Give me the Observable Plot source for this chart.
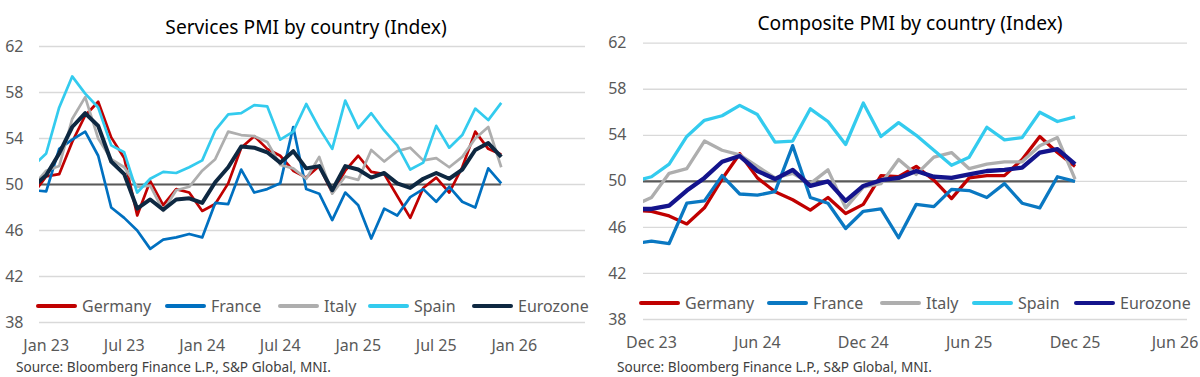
<!DOCTYPE html>
<html><head><meta charset="utf-8">
<script src="https://cdn.jsdelivr.net/npm/d3@7"></script>
<script src="https://cdn.jsdelivr.net/npm/@observablehq/plot@0.6"></script>
<style>
html,body{margin:0;padding:0;background:#fff;}
#wrap{position:relative;width:1200px;height:377px;overflow:hidden;font-family:"Noto Sans",sans-serif;}
.panel{position:absolute;top:0;width:600px;height:377px;}
.plot{position:absolute;top:0;left:0;}
.title{position:absolute;font-size:19.2px;color:#000;white-space:nowrap;transform:translateX(-50%);}
.src{position:absolute;font-size:13.6px;color:#404040;white-space:nowrap;}
.leg{position:absolute;font-size:16px;color:#595959;white-space:nowrap;display:flex;align-items:center;}
.leg .ln{display:inline-block;width:41px;border-radius:2px;margin-right:5px;}
</style>
</head><body>
<div id="wrap">
  <div class="panel" id="left" style="left:0"></div>
  <div class="panel" id="right" style="left:600px"></div>
</div>
<script>
// ---- data ----
const countries = ["Germany", "France", "Italy", "Spain", "Eurozone"];
const yTicks = [38, 42, 46, 50, 54, 58, 62];

// Services PMI, monthly Dec 22 .. Dec 25 (first value is the month before the first tick)
const servicesTickLabels = ["Jan 23", "Jul 23", "Jan 24", "Jul 24", "Jan 25", "Jul 25", "Jan 26"];
const servicesGermany = [49.2,
  50.7, 50.9, 53.7, 56.0, 57.2, 54.1, 52.3, 47.3, 50.3, 48.2, 49.6, 49.3,
  47.7, 48.3, 50.1, 53.2, 54.2, 53.1, 52.5, 51.2, 50.6, 51.6, 49.3, 51.2,
  52.5, 51.1, 50.9, 49.0, 47.1, 49.7, 50.6, 49.3, 51.5, 54.6, 53.1, 52.6];
const servicesFrance = [49.5,
  49.4, 53.1, 53.9, 54.6, 52.5, 48.0, 47.1, 46.0, 44.4, 45.2, 45.4, 45.7,
  45.4, 48.4, 48.3, 51.3, 49.3, 49.6, 50.1, 55.0, 49.6, 49.2, 46.9, 49.3,
  48.2, 45.3, 47.9, 47.3, 48.9, 49.6, 48.5, 49.8, 48.5, 48.0, 51.4, 50.1];
const servicesItaly = [49.9,
  51.2, 51.6, 55.7, 57.6, 54.0, 52.2, 51.5, 49.8, 49.9, 47.7, 49.5, 49.8,
  51.2, 52.2, 54.6, 54.3, 54.2, 53.7, 51.7, 51.4, 50.5, 52.4, 49.2, 50.7,
  50.4, 53.0, 52.0, 52.9, 53.2, 52.1, 52.3, 51.5, 52.4, 54.0, 55.0, 51.5];
const servicesSpain = [51.6,
  52.7, 56.7, 59.4, 57.9, 56.7, 53.4, 52.8, 49.3, 50.5, 51.1, 51.0, 51.5,
  52.1, 54.7, 56.1, 56.2, 56.9, 56.8, 53.9, 54.6, 57.0, 54.9, 53.1, 57.3,
  54.9, 56.2, 54.7, 53.4, 51.3, 51.9, 55.1, 53.2, 54.3, 56.6, 55.6, 57.1];
const servicesEurozone = [49.8,
  50.8, 52.7, 55.0, 56.2, 55.1, 52.0, 50.9, 47.9, 48.7, 47.8, 48.7, 48.8,
  48.4, 50.2, 51.5, 53.3, 53.2, 52.8, 51.9, 52.9, 51.4, 51.6, 49.5, 51.6,
  51.3, 50.6, 51.0, 50.1, 49.7, 50.5, 51.0, 50.5, 51.3, 53.0, 53.6, 52.4];

// Composite PMI, monthly Nov 23 .. Dec 25
const compositeTickLabels = ["Dec 23", "Jun 24", "Dec 24", "Jun 25", "Dec 25", "Jun 26"];
const compositeGermany = [47.5, 47.4,
  47.0, 46.3, 47.7, 50.2, 52.4, 50.3, 49.1, 48.4, 47.5, 48.6, 47.2, 48.0,
  50.5, 50.4, 51.3, 50.1, 48.5, 50.3, 50.5, 50.5, 51.9, 53.9, 52.5, 51.3];
const compositeFrance = [44.6, 44.8,
  44.6, 48.1, 48.3, 50.5, 48.9, 48.8, 49.1, 53.1, 48.6, 48.1, 45.9, 47.4,
  47.6, 45.1, 48.0, 47.8, 49.3, 49.2, 48.6, 49.8, 48.1, 47.7, 50.4, 50.0];
const compositeItaly = [47.9, 48.6,
  50.7, 51.1, 53.5, 52.7, 52.3, 51.3, 50.3, 50.7, 49.8, 51.0, 47.7, 49.5,
  49.8, 51.9, 50.6, 52.1, 52.5, 51.1, 51.5, 51.7, 51.7, 53.1, 53.8, 50.2];
const compositeSpain = [50.0, 50.4,
  51.5, 53.9, 55.3, 55.7, 56.6, 55.8, 53.4, 53.5, 56.3, 55.2, 53.2, 56.8,
  53.9, 55.1, 54.0, 52.7, 51.4, 52.1, 54.7, 53.6, 53.8, 56.0, 55.2, 55.6];
const compositeEurozone = [47.6, 47.6,
  47.9, 49.2, 50.3, 51.7, 52.2, 50.9, 50.2, 51.0, 49.6, 50.0, 48.3, 49.6,
  50.1, 50.3, 50.9, 50.4, 50.3, 50.6, 50.9, 51.0, 51.2, 52.5, 52.8, 51.5];

// ---- chart builder ----
function makePanel(el, cfg) {
  const rows = [];
  cfg.series.forEach((vals, si) => {
    vals.forEach((v, j) => rows.push({series: countries[si], k: j - 1, v}));
  });
  const lastK = cfg.series[0].length - 2;
  const tickPos = cfg.tickLabels.map((_, i) => i * 6);
  const chart = Plot.plot({
    width: 600,
    height: cfg.height,
    marginLeft: cfg.marginLeft,
    marginRight: cfg.marginRight,
    marginTop: cfg.marginTop,
    marginBottom: cfg.marginBottom,
    style: {fontFamily: "Noto Sans", fontSize: "16px", color: "#595959", background: "transparent", overflow: "visible"},
    x: {domain: cfg.xDomain, ticks: tickPos, tickFormat: d => cfg.tickLabels[Math.round(d / 6)], tickSize: 0, tickPadding: 17, label: null},
    y: {domain: [38, 62], ticks: yTicks, tickSize: 0, tickPadding: cfg.yPad, label: null},
    marks: [
      Plot.gridY(yTicks, {stroke: "#D9D9D9", strokeOpacity: 1, strokeWidth: 1.3}),
      Plot.ruleY([50], {x1: cfg.xDomain[0], x2: lastK, stroke: "#595959", strokeWidth: 2.2}),
      ...countries.map((c, i) => Plot.line(rows.filter(d => d.series === c), {
        x: "k", y: "v", stroke: cfg.colors[i], strokeWidth: cfg.widths[i],
        strokeLinejoin: "round", strokeLinecap: "butt", clip: true
      }))
    ]
  });
  chart.classList.add("plot");
  el.appendChild(chart);

  // nudge the last x tick label so that it stays inside the page
  if (cfg.lastTickDx) {
    const labels = chart.querySelectorAll('g[aria-label="x-axis tick label"] text');
    if (labels.length) labels[labels.length - 1].setAttribute("dx", cfg.lastTickDx);
  }

  const t = document.createElement("div");
  t.className = "title";
  t.textContent = cfg.title;
  t.style.left = cfg.titleX + "px";
  t.style.top = cfg.titleY + "px";
  el.appendChild(t);

  const s = document.createElement("div");
  s.className = "src";
  s.textContent = "Source: Bloomberg Finance L.P., S&P Global, MNI.";
  s.style.left = cfg.srcX + "px";
  s.style.top = "357px";
  el.appendChild(s);

  countries.forEach((c, i) => {
    const it = document.createElement("div");
    it.className = "leg";
    it.style.left = cfg.legX[i] + "px";
    it.style.top = cfg.legY + "px";
    const ln = document.createElement("span");
    ln.className = "ln";
    ln.style.background = cfg.colors[i];
    ln.style.height = (i === 4 ? 4.5 : 3.6) + "px";
    it.appendChild(ln);
    const tx = document.createElement("span");
    tx.textContent = c;
    it.appendChild(tx);
    el.appendChild(it);
  });
}

makePanel(document.getElementById("left"), {
  series: [servicesGermany, servicesFrance, servicesItaly, servicesSpain, servicesEurozone],
  tickLabels: servicesTickLabels,
  title: "Services PMI by country (Index)",
  titleX: 306, titleY: 13,
  height: 356, marginLeft: 39, marginRight: 15, marginTop: 46, marginBottom: 34,
  xDomain: [-0.515, 41.48], yPad: 16,
  colors: ["#C00000", "#0070C0", "#AEAEAE", "#33CBEE", "#0E2841"],
  widths: [2.7, 2.7, 2.7, 2.7, 4],
  legX: [36, 165, 278, 368, 472], legY: 295,
  srcX: 16
});

makePanel(document.getElementById("right"), {
  series: [compositeGermany, compositeFrance, compositeItaly, compositeSpain, compositeEurozone],
  tickLabels: compositeTickLabels,
  title: "Composite PMI by country (Index)",
  titleX: 310, titleY: 9,
  height: 353, marginLeft: 43, marginRight: 13, marginTop: 42.7, marginBottom: 34,
  xDomain: [-0.453, 30.37], yPad: 17,
  colors: ["#C00000", "#0A78C2", "#AEAEAE", "#33CBEE", "#14148C"],
  widths: [3.3, 3.3, 3.3, 3.3, 4.3],
  legX: [39, 167, 280, 372, 474], legY: 292,
  srcX: 17,
  lastTickDx: -6
});
</script>
</body></html>
